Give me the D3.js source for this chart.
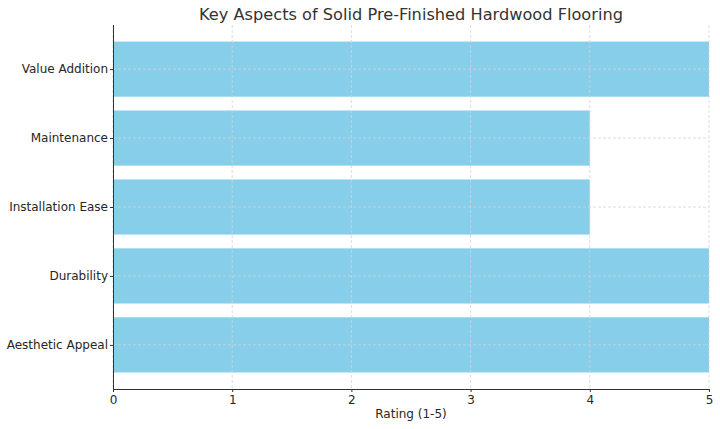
<!DOCTYPE html>
<html>
<head>
<meta charset="utf-8">
<script src="https://cdn.jsdelivr.net/npm/d3@7"></script>
<style>
  body { margin: 0; background: #fff; }
  svg { font-family: "DejaVu Sans", sans-serif; }
</style>
</head>
<body>
<div class="board"></div>
<script>
var margin = { top: 25, right: 11, bottom: 40, left: 113 },
    width = 720 - margin.left - margin.right,
    height = 429 - margin.top - margin.bottom;

const aspects = ["Value Addition", "Maintenance", "Installation Ease", "Durability", "Aesthetic Appeal"]
const ratings = [5, 4, 4, 5, 5]
const xTicks = [0, 1, 2, 3, 4, 5]

const BAR = "#87CEEB"
const GRID = "#d3d3d3"
const TEXT = "#262626"

var svg = d3.select(".board")
    .append("svg")
    .attr("width", 720)
    .attr("height", 429)

let g = svg.append("g")
    .attr("transform", `translate(${margin.left}, ${margin.top})`)

let x = d3.scaleLinear()
    .domain([0, 5])
    .range([0, width])

// matplotlib-like: category i at i, bars 0.8 tall, 5% margin
let y = d3.scaleLinear()
    .domain([-0.64, aspects.length - 1 + 0.64])
    .range([0, height])

g.selectAll(".bar")
    .data(aspects)
    .enter()
    .append("rect")
    .classed("bar", true)
    .attr("x", x(0))
    .attr("y", (d, i) => y(i - 0.4))
    .attr("width", (d, i) => x(ratings[i]) - x(0))
    .attr("height", y(0.4) - y(-0.4))
    .attr("fill", BAR)

// grid on top of bars
g.append("g")
    .selectAll("line")
    .data(xTicks)
    .enter()
    .append("line")
    .attr("x1", d => x(d)).attr("x2", d => x(d))
    .attr("y1", 0).attr("y2", height)
    .attr("stroke", GRID)
    .attr("stroke-width", 0.8)
    .attr("stroke-dasharray", "3,2")

g.append("g")
    .selectAll("line")
    .data(aspects)
    .enter()
    .append("line")
    .attr("x1", 0).attr("x2", width)
    .attr("y1", (d, i) => y(i)).attr("y2", (d, i) => y(i))
    .attr("stroke", GRID)
    .attr("stroke-width", 0.8)
    .attr("stroke-dasharray", "3,2")

// axes
let xAxis = g.append("g")
    .attr("transform", `translate(0, ${height})`)
    .call(d3.axisBottom(x).tickValues(xTicks).tickFormat(d3.format("d")).tickSize(3).tickPadding(3))

let yAxis = g.append("g")
    .call(d3.axisLeft(y).tickValues(d3.range(aspects.length)).tickFormat(i => aspects[i]).tickSize(3).tickPadding(2))

;[xAxis, yAxis].forEach(a => {
    a.select(".domain").attr("stroke", "#333").attr("stroke-width", 1).attr("d",
        a === xAxis ? `M0,0.5H${width}` : `M0.5,0V${height}`)
    a.selectAll(".tick line").attr("stroke", "#333")
    a.selectAll("text").attr("fill", TEXT).style("font-size", "12px").style("font-family", "DejaVu Sans")
})

svg.append("text")
    .text("Rating (1-5)")
    .attr("x", margin.left + width / 2)
    .attr("y", 418)
    .attr("text-anchor", "middle")
    .attr("fill", TEXT)
    .style("font-size", "12px")

svg.append("text")
    .text("Key Aspects of Solid Pre-Finished Hardwood Flooring")
    .attr("x", margin.left + width / 2)
    .attr("y", 20)
    .attr("text-anchor", "middle")
    .attr("fill", "#333")
    .style("font-size", "16.2px")
</script>
</body>
</html>
